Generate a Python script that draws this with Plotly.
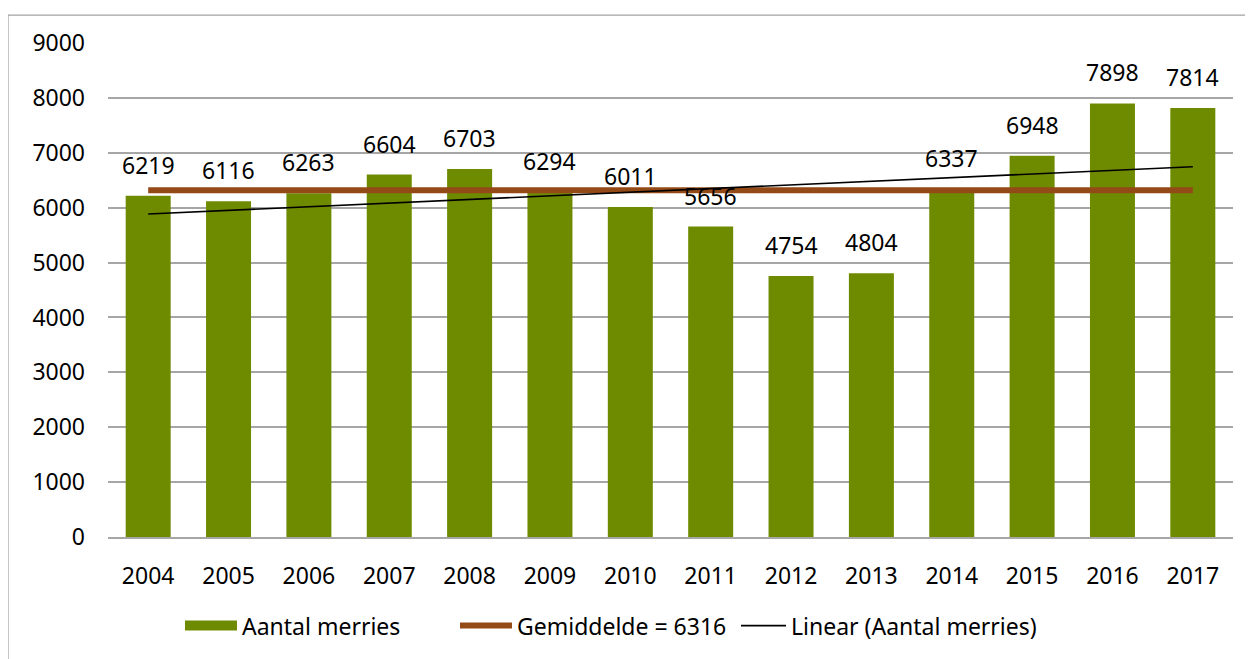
import numpy as np
import plotly.graph_objects as go

years = ["2004", "2005", "2006", "2007", "2008", "2009", "2010",
         "2011", "2012", "2013", "2014", "2015", "2016", "2017"]
merries = [6219, 6116, 6263, 6604, 6703, 6294, 6011,
           5656, 4754, 4804, 6337, 6948, 7898, 7814]
mean_label = "Gemiddelde = 6316"
bar_name = "Aantal merries"
trend_name = "Linear (Aantal merries)"
y_ticks = [0, 1000, 2000, 3000, 4000, 5000, 6000, 7000, 8000, 9000]

# page has an 8px body margin; figure sized to fit the 1253x659 window
W, H = 1245, 651
L, R, T, B = 100, 20, 35, 120
FONT = "Noto Sans"
FS = 23
GREEN = "#6E8B00"

mean_val = round(float(np.mean(merries)))
xi = np.arange(len(merries))
slope, intercept = np.polyfit(xi, merries, 1)
trend = [float(v) for v in (intercept + slope * xi)]

fig = go.Figure()
fig.add_trace(go.Bar(
    x=years, y=merries, name=bar_name, showlegend=False,
    legendgroup="bars",
    marker=dict(color=GREEN, line=dict(width=0)),
))
# legend swatch for the bars (wide rectangle, as in the reference)
fig.add_trace(go.Scatter(
    x=[None], y=[None], name=bar_name, legendgroup="bars",
    mode="lines", line=dict(color=GREEN, width=15),
))
fig.add_trace(go.Scatter(
    x=[years[0], years[-1]], y=[mean_val, mean_val], name=mean_label,
    mode="lines", line=dict(color="#944A17", width=6),
))
fig.add_trace(go.Scatter(
    x=years, y=trend, name=trend_name, legend="legend2",
    mode="lines", line=dict(color="#000000", width=1.6),
))

for i, v in enumerate(merries):
    fig.add_annotation(x=i, y=v, text=str(v), showarrow=False,
                       yanchor="middle", yshift=31,
                       font=dict(family=FONT, size=FS, color="#000000"))

plot_h = H - T - B
plot_w = W - L - R
fig.add_shape(type="rect", xref="paper", yref="paper",
              x0=(0 - L) / plot_w, x1=(W + 5 - L) / plot_w,
              y0=(H - B - 670) / plot_h, y1=(H - B - 7) / plot_h,
              line=dict(color="#8c8c8c", width=1), fillcolor="rgba(0,0,0,0)",
              layer="above")

leg_y = (H - B - 620) / plot_h
fig.update_layout(
    width=W, height=H,
    margin=dict(l=L, r=R, t=T, b=B),
    paper_bgcolor="white", plot_bgcolor="white",
    font=dict(family=FONT, size=FS, color="#000000"),
    bargap=0.44,
    showlegend=True,
    legend=dict(orientation="h", x=(172 - L) / plot_w, xanchor="left",
                y=leg_y, yanchor="middle",
                font=dict(family=FONT, size=FS), itemwidth=52,
                entrywidth=208, entrywidthmode="pixels",
                traceorder="normal"),
    legend2=dict(orientation="h", x=(728 - L) / plot_w, xanchor="left",
                 y=leg_y, yanchor="middle",
                 font=dict(family=FONT, size=FS), itemwidth=45),
    xaxis=dict(type="category", range=[-0.5, len(years) - 0.5],
               showgrid=False, showline=True,
               linecolor="#a6a6a6", linewidth=1.5, ticks="",
               ticklabelstandoff=18, tickfont=dict(size=FS)),
    yaxis=dict(range=[0, 9000], tickvals=y_ticks, showgrid=True,
               gridcolor="#a6a6a6", gridwidth=1.5, zeroline=False,
               showline=False, ticks="", ticklabelstandoff=22,
               tickfont=dict(size=FS)),
)

fig.write_html("out.html")
